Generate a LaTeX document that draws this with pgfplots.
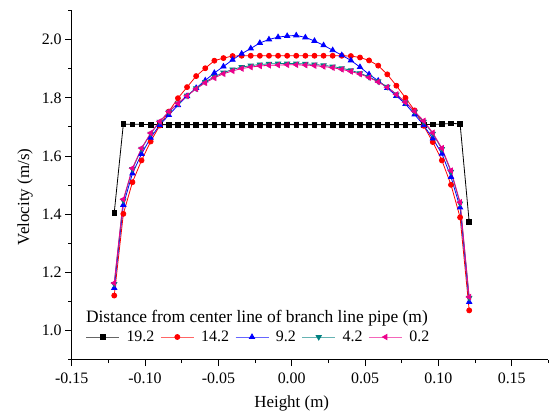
\documentclass[border=0pt]{standalone}
\usepackage{fontspec}
\setmainfont{Liberation Serif}
\usepackage{pgfplots}
\usepackage{pgfplotstable}
\pgfplotsset{compat=1.18}
\definecolor{tealc}{RGB}{0,128,128}
\newcommand{\tickfont}{\fontsize{16}{19}\selectfont}
\newcommand{\lblfont}{\fontsize{17}{20}\selectfont}
\newcommand{\legfont}{\fontsize{16}{19}\selectfont}

% velocity profiles across the pipe height, one column per distance
\pgfplotstableread{
x        a      b      c      d      e
-0.12100 1.405  1.120  1.146  1.160  1.163
-0.11479 1.710  1.401  1.432  1.447  1.451
-0.10859 1.709  1.510  1.540  1.555  1.558
-0.10238 1.709  1.585  1.607  1.625  1.627
-0.09618 1.708  1.650  1.663  1.677  1.679
-0.08997 1.708  1.705  1.707  1.718  1.719
-0.08377 1.708  1.753  1.741  1.752  1.753
-0.07756 1.708  1.799  1.775  1.781  1.781
-0.07136 1.708  1.837  1.806  1.808  1.807
-0.06515 1.708  1.875  1.834  1.833  1.831
-0.05895 1.708  1.902  1.860  1.855  1.852
-0.05274 1.708  1.928  1.886  1.873  1.869
-0.04654 1.708  1.937  1.908  1.887  1.883
-0.04033 1.708  1.944  1.931  1.898  1.893
-0.03413 1.708  1.945  1.952  1.906  1.901
-0.02792 1.708  1.945  1.970  1.911  1.906
-0.02172 1.708  1.945  1.989  1.915  1.910
-0.01551 1.708  1.945  2.001  1.917  1.912
-0.00931 1.708  1.945  2.009  1.918  1.913
-0.00310 1.708  1.945  2.013  1.918  1.914
 0.00310 1.708  1.945  2.015  1.918  1.914
 0.00931 1.708  1.945  2.008  1.917  1.913
 0.01551 1.708  1.945  1.996  1.915  1.911
 0.02172 1.708  1.945  1.981  1.912  1.908
 0.02792 1.708  1.945  1.964  1.908  1.904
 0.03413 1.708  1.945  1.947  1.902  1.898
 0.04033 1.708  1.944  1.929  1.895  1.891
 0.04654 1.708  1.939  1.906  1.885  1.882
 0.05274 1.708  1.929  1.881  1.872  1.870
 0.05895 1.708  1.911  1.859  1.857  1.855
 0.06515 1.708  1.881  1.834  1.838  1.837
 0.07136 1.708  1.842  1.807  1.812  1.812
 0.07756 1.708  1.800  1.779  1.784  1.785
 0.08377 1.708  1.757  1.743  1.752  1.754
 0.08997 1.708  1.704  1.706  1.718  1.721
 0.09618 1.709  1.648  1.660  1.677  1.680
 0.10238 1.710  1.585  1.608  1.624  1.627
 0.10859 1.712  1.501  1.528  1.546  1.550
 0.11479 1.711  1.389  1.423  1.437  1.441
 0.12100 1.373  1.069  1.098  1.112  1.115
}\profiles

\begin{document}
\begin{tikzpicture}
\begin{axis}[
    name=ax,
    scale only axis, width=476.7bp, height=348.8bp,
    xmin=-0.15, xmax=0.175, ymin=0.9, ymax=2.1,
    axis lines*=left, axis line style={line width=1.1bp},
    tick align=outside, major tick length=6.5bp, minor tick length=3.5bp,
    every tick/.style={black, line width=1bp},
    xtick={-0.15,-0.10,-0.05,0,0.05,0.10,0.15},
    minor xtick={-0.125,-0.075,-0.025,0.025,0.075,0.125,0.175},
    ytick={1.0,1.2,1.4,1.6,1.8,2.0},
    minor ytick={0.9,1.1,1.3,1.5,1.7,1.9,2.1},
    xticklabel style={yshift=-3bp, /pgf/number format/.cd, fixed, fixed zerofill, precision=2},
    yticklabel style={/pgf/number format/.cd, fixed, fixed zerofill, precision=1},
    /pgf/number format/assume math mode=true,
    tick label style={font=\tickfont},
    xlabel={Height (m)}, ylabel={Velocity (m/s)},
    label style={font=\lblfont},
    xlabel style={at={(axis description cs:0.4615,-0.1475)}, anchor=south, inner sep=0pt},
    ylabel style={at={(axis description cs:-0.098,0.466)}, anchor=center},
    legend columns=5,
    legend style={at={(axis description cs:0.029,0.0645)}, anchor=west,
      draw=none, fill=none, inner sep=0pt, font=\legfont,
      nodes={inner sep=0pt},
      /tikz/every odd column/.append style={column sep=7bp},
      /tikz/every even column/.append style={column sep=6bp}},
    legend image code/.code={
      \draw[#1, mark=none, draw opacity=0.6] (0bp,0bp) -- (33bp,0bp);
      \draw[#1, only marks] plot coordinates {(16.5bp,0bp)};},
    every axis plot/.append style={line width=0.8bp},
  ]
  \addplot[black, mark=square*, mark size=2.3bp] table[x=x, y=a] {\profiles};
  \addplot[red, mark=*, mark size=2.5bp] table[x=x, y=b] {\profiles};
  \addplot[blue, mark=triangle*, mark size=3bp] table[x=x, y=c] {\profiles};
  \addplot[tealc, mark=triangle*, mark size=3bp, mark options={rotate=180}] table[x=x, y=d] {\profiles};
  \addplot[magenta, mark=triangle*, mark size=3bp, mark options={rotate=90}] table[x=x, y=e] {\profiles};
  \legend{19.2, 14.2, 9.2, 4.2, 0.2}
  \node[anchor=base west, font=\fontsize{17.5}{20}\selectfont, inner sep=0pt]
    at (axis description cs:0.0296,0.1047)
    {Distance from center line of branch line pipe (m)};
\end{axis}
\pgfresetboundingbox
\path ([shift={(-71.7bp,-52.5bp)}]ax.south west) rectangle ([shift={(0.6bp,10.7bp)}]ax.north east);
\end{tikzpicture}
\end{document}
